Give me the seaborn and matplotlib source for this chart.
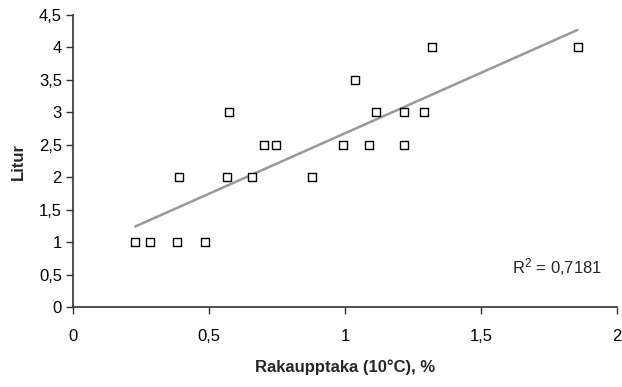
import numpy as np
import pandas as pd
import matplotlib
matplotlib.use("Agg")
import matplotlib.pyplot as plt
import seaborn as sns
from matplotlib.ticker import FuncFormatter

rakaupptaka = [0.229, 0.283, 0.383, 0.484, 0.39, 0.565, 0.575, 0.659, 0.701, 0.746,
               0.877, 0.992, 1.038, 1.088, 1.114, 1.218, 1.218, 1.289, 1.32, 1.855]
litur = [1, 1, 1, 1, 2, 2, 3, 2, 2.5, 2.5,
         2, 2.5, 3.5, 2.5, 3, 3, 2.5, 3, 4, 4]
xticks = [0, 0.5, 1, 1.5, 2]
yticks = [0, 0.5, 1, 1.5, 2, 2.5, 3, 3.5, 4, 4.5]
r2_label = "R$^2$ = 0,7181"

df = pd.DataFrame({"x": rakaupptaka, "y": litur})

sns.set_style("white")
plt.rcParams['font.family'] = ['Liberation Sans', 'DejaVu Sans']
plt.rcParams['mathtext.default'] = 'regular'

fig = plt.figure(figsize=(6.22, 3.87), dpi=100)
ax = fig.add_axes([73/622, 1-307/387, (617-73)/622, (307-15)/387])

sns.regplot(data=df, x="x", y="y", ax=ax, ci=None, truncate=True,
            scatter=False, line_kws=dict(color="#999999", lw=1.8))
sns.scatterplot(data=df, x="x", y="y", ax=ax, marker="s", s=30,
                facecolor="white", edgecolor="black", linewidth=1.0, zorder=3)

ax.set_xlim(0, 2)
ax.set_ylim(0, 4.5)
ax.set_xticks(xticks)
ax.set_yticks(yticks)
fmt = FuncFormatter(lambda v, p: ("%g" % v).replace(".", ","))
ax.xaxis.set_major_formatter(fmt)
ax.yaxis.set_major_formatter(fmt)
ax.tick_params(axis="both", direction="out", length=5, width=1, color="#333333",
               labelsize=12, labelcolor="black", bottom=True, left=True)
ax.tick_params(axis="x", pad=11)
ax.tick_params(axis="y", pad=3)
for side in ["top", "right"]:
    ax.spines[side].set_visible(False)
for side in ["left", "bottom"]:
    ax.spines[side].set_color("#333333")
    ax.spines[side].set_linewidth(1.2)

ax.set_xlabel("Rakaupptaka (10°C), %", fontsize=12, fontweight="bold", labelpad=11)
ax.set_ylabel("Litur", fontsize=12, fontweight="bold", labelpad=9)
ax.text(1.945, 0.62, r2_label, ha="right", va="center", fontsize=12)

fig.savefig("out.png", dpi=100)
